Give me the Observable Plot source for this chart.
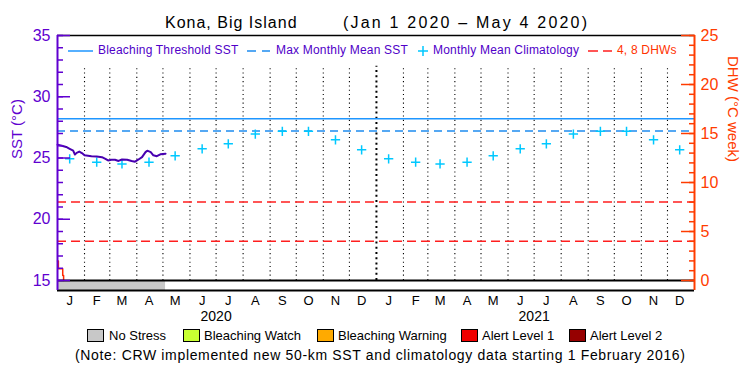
<!DOCTYPE html>
<html><head><meta charset="utf-8">
<script src="https://cdn.jsdelivr.net/npm/d3@7"></script>
<script src="https://cdn.jsdelivr.net/npm/@observablehq/plot@0.6"></script>
<style>
body{margin:0;background:#fff;}
#wrap{position:relative;width:750px;height:375px;overflow:hidden;font-family:"Liberation Sans",Arial,sans-serif;background:#fff;}
.abs{position:absolute;white-space:pre;line-height:1;}
.box{position:absolute;width:15px;height:11px;border:1px solid #000;}
</style></head><body>
<div id="wrap">
  <div id="plot" style="position:absolute;left:0;top:28px;"></div>
  <span class="abs" style="left:165px;top:15.4px;font-size:16px;letter-spacing:1px;">Kona, Big Island</span>
  <span class="abs" style="left:343px;top:15.4px;font-size:16px;letter-spacing:2.2px;">(Jan 1 2020 – May 4 2020)</span>

  <svg class="abs" style="left:68px;top:44px;" width="26" height="14"><line x1="0" x2="25" y1="7" y2="7" stroke="#1e96ff" stroke-width="1.5"/></svg>
  <span class="abs" style="left:98px;top:44.3px;font-size:12px;letter-spacing:0.2px;color:#5000c8;">Bleaching Threshold SST</span>
  <svg class="abs" style="left:247px;top:44px;" width="24" height="14"><line x1="0" x2="23" y1="7" y2="7" stroke="#1e8cf0" stroke-width="1.5" stroke-dasharray="9,6"/></svg>
  <span class="abs" style="left:276px;top:44.3px;font-size:12px;letter-spacing:0.2px;color:#5000c8;">Max Monthly Mean SST</span>
  <svg class="abs" style="left:417px;top:45px;" width="12" height="12"><path d="M1,6H11M6,1V11" stroke="#00c8ff" stroke-width="1.5" fill="none"/></svg>
  <span class="abs" style="left:433px;top:44.3px;font-size:12px;letter-spacing:0.2px;color:#5000c8;">Monthly Mean Climatology</span>
  <svg class="abs" style="left:588px;top:44px;" width="25" height="14"><line x1="0" x2="24" y1="7" y2="7" stroke="#ff1e1e" stroke-width="1.5" stroke-dasharray="10,5"/></svg>
  <span class="abs" style="left:617px;top:44.3px;font-size:12px;letter-spacing:0.2px;color:#ff3200;">4, 8 DHWs</span>

  <div id="legend"></div>
  <span class="abs" style="left:75px;top:348px;font-size:14px;letter-spacing:0.66px;">(Note: CRW implemented new 50-km SST and climatology data starting 1 February 2016)</span>
</div>
<script>
// ---- data ----
const monthLetters = ["J","F","M","A","M","J","J","A","S","O","N","D"];
const yearLabels = ["2020","2021"];
const sstDates = ["2020-01-01","2020-01-06","2020-01-11","2020-01-15","2020-01-19","2020-01-21","2020-01-23","2020-01-26","2020-01-29","2020-02-01","2020-02-09","2020-02-15","2020-02-21","2020-02-25","2020-02-28","2020-03-03","2020-03-07","2020-03-11","2020-03-15","2020-03-21","2020-03-26","2020-03-30","2020-04-03","2020-04-07","2020-04-11","2020-04-13","2020-04-17","2020-04-20","2020-04-24","2020-04-28","2020-05-04"];
const sstValues = [26.08,26.0,25.9,25.75,25.6,25.28,25.42,25.52,25.4,25.22,25.15,25.12,25.07,24.93,24.8,24.85,24.86,24.76,24.88,24.85,24.75,24.7,24.88,25.07,25.48,25.6,25.48,25.22,25.15,25.3,25.35];
const climYears = [2020, 2021];
const climValues = [24.93,24.66,24.52,24.66,25.18,25.75,26.16,26.95,27.18,27.18,26.48,25.67];
const mmm = 27.2;
const bleachingThreshold = 28.2;
const dhwLevels = [4, 8];
const dhwDates = ["2020-01-01","2020-01-02","2020-01-07","2020-01-08"];
const dhwValues = [2.0, 1.2, 0.5, 0];
const stressStart = ["2020-01-01"];
const stressEnd = ["2020-05-04"];
const stressLevel = ["No Stress"];
const stressNames = ["No Stress","Bleaching Watch","Bleaching Warning","Alert Level 1","Alert Level 2"];
const stressColors = ["#c8c8c8","#c8ff32","#ffaa00","#f00000","#960000"];
const sstMajor = [15,20,25,30,35];
const sstMinor = d3.range(15, 36, 1);
const dhwMajor = [0,5,10,15,20,25];
const dhwMinor = d3.range(0, 26, 1);

// ---- helpers ----
const purple = "#6000d0", lineP = "#4800b0", orange = "#ff3c00";
const parse = d3.utcParse("%Y-%m-%d");
const toSST = d => 15 + d * 20 / 25;
const fromSST = v => Math.round((v - 15) * 25 / 20);
const xStart = parse("2020-01-01"), xEnd = parse("2022-01-01");
const sstBottom = 15 - 20 * 10 / 245;

const sst = sstDates.map((d, i) => ({date: parse(d), value: sstValues[i]}));
const clim = climYears.flatMap(y => climValues.map((v, m) => ({date: new Date(Date.UTC(y, m, 15)), value: v})));
const dhw = dhwDates.map((d, i) => ({date: parse(d), value: toSST(dhwValues[i])}));
const stress = stressStart.map((d, i) => ({start: parse(d), end: parse(stressEnd[i]), level: stressLevel[i]}));
const monthStarts = d3.utcMonth.range(parse("2020-02-01"), xEnd).filter(d => d.getUTCMonth() !== 0);
const yearStarts = [parse("2021-01-01")];
const midMonths = d3.utcMonth.range(xStart, xEnd).map(d => d3.utcDay.offset(d, 14));
const midYears = yearLabels.map(y => parse(y + "-07-01"));

const chart = Plot.plot({
  width: 750, height: 296,
  marginLeft: 57, marginRight: 56, marginTop: 7, marginBottom: 34,
  style: {fontFamily: "'Liberation Sans', Arial, sans-serif", fontSize: "13px", background: "white", overflow: "visible"},
  x: {type: "utc", domain: [xStart, xEnd]},
  y: {domain: [sstBottom, 35]},
  color: {type: "ordinal", domain: stressNames, range: stressColors},
  marks: [
    Plot.rect(stress, {x1: "start", x2: "end", y1: sstBottom, y2: 15, fill: "level"}),
    Plot.ruleX(monthStarts, {y1: 15, y2: 32.5, stroke: "black", strokeWidth: 1.1, strokeDasharray: "1.1,3.2"}),
    Plot.ruleX(yearStarts, {y1: 15, y2: 32.5, stroke: "black", strokeWidth: 2, strokeDasharray: "2,3.2"}),
    Plot.ruleY([bleachingThreshold], {stroke: "#1e96ff", strokeWidth: 1.5}),
    Plot.ruleY([mmm], {stroke: "#1e8cf0", strokeWidth: 1.5, strokeDasharray: "8,5"}),
    Plot.ruleY(dhwLevels.map(toSST), {stroke: "#ff1e1e", strokeWidth: 1.5, strokeDasharray: "9,5"}),
    Plot.dot(clim, {x: "date", y: "value", symbol: "plus", r: 3.1, stroke: "#00c8ff", strokeWidth: 1.5}),
    Plot.line(dhw, {x: "date", y: "value", stroke: "#ff2800", strokeWidth: 1.5, curve: "step-after"}),
    Plot.line(sst, {x: "date", y: "value", stroke: lineP, strokeWidth: 2}),
    Plot.ruleY([15], {stroke: "black", strokeWidth: 2}),
    Plot.ruleY([sstBottom], {stroke: "black", strokeWidth: 2}),
    Plot.ruleY([35], {stroke: "black", strokeWidth: 1.5}),
    Plot.ruleX([xStart], {stroke: purple, strokeWidth: 2}),
    Plot.ruleX([xEnd], {stroke: orange, strokeWidth: 2}),
    Plot.axisY(sstMinor, {anchor: "left", tickSize: -6, tickFormat: () => "", color: purple, strokeWidth: 1.5, label: null}),
    Plot.axisY(sstMajor, {anchor: "left", tickSize: -13, tickPadding: 20, color: purple, strokeWidth: 1.5, fontSize: 16, label: null}),
    Plot.axisY(dhwMinor.map(toSST), {anchor: "right", tickSize: -6, tickFormat: () => "", color: orange, strokeWidth: 1.5, label: null}),
    Plot.axisY(dhwMajor.map(toSST), {anchor: "right", tickSize: -14, tickPadding: 20, tickFormat: v => String(fromSST(v)), color: orange, strokeWidth: 1.5, fontSize: 16, label: null}),
    Plot.axisX(midMonths, {anchor: "bottom", tickSize: 0, tickPadding: 5, tickFormat: d => monthLetters[d.getUTCMonth()], fontSize: 13, label: null}),
    Plot.axisX(midYears, {anchor: "bottom", tickSize: 0, tickPadding: 20.7, tickFormat: d => yearLabels[yearLabels.indexOf(String(d.getUTCFullYear()))], fontSize: 14, label: null}),
    Plot.text(["SST (°C)"], {frameAnchor: "left", rotate: -90, dx: -40.5, dy: -4, fill: purple, fontSize: 15}),
    Plot.text(["DHW (°C week)"], {frameAnchor: "right", rotate: 90, dx: 38, dy: -1, fill: orange, fontSize: 15})
  ]
});
document.getElementById("plot").appendChild(chart);

// bottom legend
const legendPos = [[87,109],[183,204],[317,338],[461,482],[569,590]];
const lg = document.getElementById("legend");
stressNames.forEach((n, i) => {
  const b = document.createElement("div");
  b.className = "box";
  b.style.left = legendPos[i][0] + "px"; b.style.top = "329px"; b.style.background = stressColors[i];
  lg.appendChild(b);
  const t = document.createElement("span");
  t.className = "abs"; t.textContent = n;
  t.style.left = legendPos[i][1] + "px"; t.style.top = "328.8px"; t.style.fontSize = "13px";
  lg.appendChild(t);
});
</script>
</body></html>
